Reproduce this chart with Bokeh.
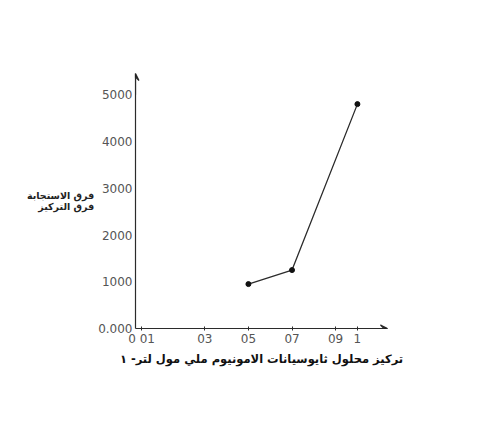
from bokeh.plotting import figure
from bokeh.models import Range1d, FixedTicker, Arrow, VeeHead
from bokeh.embed import file_html
from bokeh.resources import INLINE

# Concentration of ammonium thiocyanate (mmol/L) vs response/concentration difference
conc = [0.5, 0.7, 1.0]
response_ratio = [950, 1250, 4800]

x_ticks = [0.01, 0.3, 0.5, 0.7, 0.9, 1.0]
x_tick_labels = ["0 01", "03", "05", "07", "09", "1"]
y_ticks = [0, 1000, 2000, 3000, 4000, 5000]
y_tick_labels = ["0.000", "1000", "2000", "3000", "4000", "5000"]

x_title = "تركيز محلول ثايوسيانات الامونيوم ملي مول لتر- ۱"
y_title_top = "فرق الاستجابة"
y_title_bottom = "فرق التركيز"

ink = "#2b2b2b"
soft_ink = "#555555"

p = figure(width=481, height=443, output_backend="svg", toolbar_location=None,
           x_range=Range1d(-0.018, 1.138), y_range=Range1d(0, 5455),
           min_border_left=135, min_border_right=94,
           min_border_top=73, min_border_bottom=115)
p.background_fill_color = "white"
p.border_fill_color = "white"
p.outline_line_color = None
p.xgrid.visible = False
p.ygrid.visible = False

# x axis
xa = p.xaxis[0]
xa.ticker = FixedTicker(ticks=x_ticks)
xa.major_label_overrides = {t: s for t, s in zip(x_ticks, x_tick_labels)}
xa.axis_line_color = ink
xa.axis_line_width = 1.2
xa.major_tick_in = 2
xa.major_tick_out = 2
xa.major_tick_line_color = ink
xa.minor_tick_line_color = None
xa.major_label_text_font = "DejaVu Sans"
xa.major_label_text_font_size = "12px"
xa.major_label_text_color = soft_ink
xa.major_label_standoff = 1
xa.axis_label = x_title
xa.axis_label_text_font = "DejaVu Sans"
xa.axis_label_text_font_size = "11.5px"
xa.axis_label_text_font_style = "bold"
xa.axis_label_text_color = "#111111"
xa.axis_label_standoff = 3

# y axis, with its title written as a horizontal two-line fraction
ya = p.yaxis[0]
ya.ticker = FixedTicker(ticks=y_ticks)
ya.major_label_overrides = {t: s for t, s in zip(y_ticks, y_tick_labels)}
ya.axis_line_color = ink
ya.axis_line_width = 1.2
ya.major_tick_in = 0
ya.major_tick_out = 0
ya.minor_tick_line_color = None
ya.major_label_text_font = "DejaVu Sans"
ya.major_label_text_font_size = "12px"
ya.major_label_text_color = soft_ink
ya.major_label_standoff = 3
ya.axis_label = y_title_top + "\n" + y_title_bottom
ya.axis_label_orientation = "horizontal"
ya.axis_label_text_font = "DejaVu Sans"
ya.axis_label_text_font_size = "9.5px"
ya.axis_label_text_font_style = "bold"
ya.axis_label_text_color = "#222222"
ya.axis_label_text_align = "right"
ya.axis_label_text_line_height = 1.0
ya.axis_label_standoff = 1

# axis arrow heads
p.add_layout(Arrow(end=VeeHead(size=7, line_color=ink, line_width=1.2),
                   x_start=-0.018, y_start=5000, x_end=-0.018, y_end=5455,
                   line_color=ink, line_width=1.2))
p.add_layout(Arrow(end=VeeHead(size=7, line_color=ink, line_width=1.2),
                   x_start=1.0, y_start=0, x_end=1.138, y_end=0,
                   line_color=ink, line_width=1.2))

# data
p.line(conc, response_ratio, line_color=ink, line_width=1.3)
p.scatter(conc, response_ratio, size=5, fill_color="#111111", line_color="#111111")

open("out.html", "w").write(file_html(p, INLINE))
